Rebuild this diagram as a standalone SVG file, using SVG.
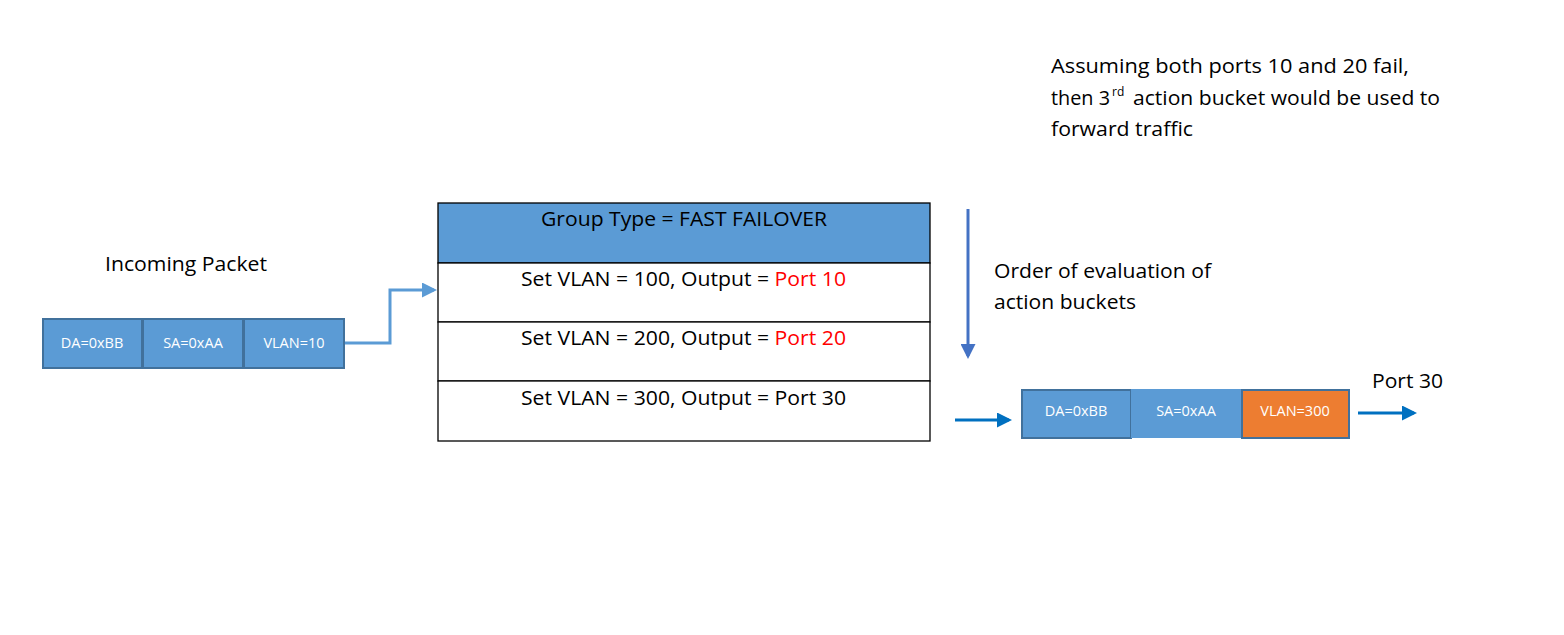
<svg xmlns="http://www.w3.org/2000/svg" width="1564" height="635" viewBox="0 0 1564 635">
<style>
.t{font-family:"Open Sans","Liberation Sans",sans-serif;font-size:20px;fill:#000}
.sup{font-family:"Open Sans","Liberation Sans",sans-serif;font-size:12px;fill:#000}
.p{font-family:"Open Sans","Liberation Sans",sans-serif;font-size:14.5px;fill:#fff;text-anchor:middle}
.red{fill:#FF0000}
.box{fill:#5B9BD5;stroke:#41719C;stroke-width:2}
.row{fill:#fff;stroke:#000;stroke-width:1.3}
</style>
<defs>
<marker id="ah1" markerWidth="5" markerHeight="5" refX="4" refY="2.5" orient="auto" markerUnits="strokeWidth"><path d="M0,0 L5,2.5 L0,5 Z" fill="#5B9BD5"/></marker>
<marker id="ah2" markerWidth="5" markerHeight="5" refX="4" refY="2.5" orient="auto" markerUnits="strokeWidth"><path d="M0,0 L5,2.5 L0,5 Z" fill="#4472C4"/></marker>
<marker id="ah3" markerWidth="5" markerHeight="5" refX="4" refY="2.5" orient="auto" markerUnits="strokeWidth"><path d="M0,0 L5,2.5 L0,5 Z" fill="#0070C0"/></marker>
</defs>
<rect width="1564" height="635" fill="#fff"/>

<g id="note">
<text class="t" x="1051" y="73" textLength="358" lengthAdjust="spacingAndGlyphs">Assuming both ports 10 and 20 fail,</text>
<text class="t" x="1051" y="105" textLength="59" lengthAdjust="spacingAndGlyphs">then 3</text>
<text class="sup" x="1112" y="96">rd</text>
<text class="t" x="1133" y="105" textLength="307" lengthAdjust="spacingAndGlyphs">action bucket would be used to</text>
<text class="t" x="1051" y="136" textLength="142" lengthAdjust="spacingAndGlyphs">forward traffic</text>
</g>

<g id="incoming-label">
<text class="t" x="105" y="271" textLength="162" lengthAdjust="spacingAndGlyphs">Incoming Packet</text>
</g>

<g id="incoming-packet">
<rect class="box" x="43" y="319" width="99" height="49"/>
<rect class="box" x="143" y="319" width="100" height="49"/>
<rect class="box" x="244" y="319" width="100" height="49"/>
<text class="p" x="92" y="348">DA=0xBB</text>
<text class="p" x="193" y="348">SA=0xAA</text>
<text class="p" x="294" y="348">VLAN=10</text>
</g>

<g id="group-table">
<rect x="438" y="203" width="492" height="60" fill="#5B9BD5" stroke="#000" stroke-width="1.3"/>
<rect class="row" x="438" y="263" width="492" height="59"/>
<rect class="row" x="438" y="322" width="492" height="59"/>
<rect class="row" x="438" y="381" width="492" height="60"/>
<text class="t" x="684" y="226" text-anchor="middle" textLength="286" lengthAdjust="spacingAndGlyphs">Group Type = FAST FAILOVER</text>
<text class="t" x="521" y="286" textLength="325" lengthAdjust="spacingAndGlyphs">Set VLAN = 100, Output = <tspan class="red">Port 10</tspan></text>
<text class="t" x="521" y="345" textLength="325" lengthAdjust="spacingAndGlyphs">Set VLAN = 200, Output = <tspan class="red">Port 20</tspan></text>
<text class="t" x="521" y="405" textLength="325" lengthAdjust="spacingAndGlyphs">Set VLAN = 300, Output = Port 30</text>
</g>

<g id="order-label">
<text class="t" x="994" y="278" textLength="217" lengthAdjust="spacingAndGlyphs">Order of evaluation of</text>
<text class="t" x="994" y="309" textLength="142" lengthAdjust="spacingAndGlyphs">action buckets</text>
</g>

<g id="output-packet">
<rect x="1022" y="390" width="109" height="48" fill="#5B9BD5" stroke="#41719C" stroke-width="2"/>
<rect x="1131" y="389" width="110" height="49" fill="#5B9BD5"/>
<rect x="1242" y="390" width="107" height="48" fill="#ED7D31" stroke="#41719C" stroke-width="2"/>
<text class="p" x="1076" y="416">DA=0xBB</text>
<text class="p" x="1186" y="416">SA=0xAA</text>
<text class="p" x="1295" y="416">VLAN=300</text>
</g>

<g id="port30-label">
<text class="t" x="1372" y="388" textLength="71" lengthAdjust="spacingAndGlyphs">Port 30</text>
</g>

<g id="connectors" fill="none">
<polyline points="345,343 390,343 390,290 434,290" stroke="#5B9BD5" stroke-width="3" marker-end="url(#ah1)"/>
<line x1="968" y1="209" x2="968" y2="356" stroke="#4472C4" stroke-width="3" marker-end="url(#ah2)"/>
<line x1="955" y1="420" x2="1009" y2="420" stroke="#0070C0" stroke-width="3" marker-end="url(#ah3)"/>
<line x1="1358" y1="413" x2="1414" y2="413" stroke="#0070C0" stroke-width="3" marker-end="url(#ah3)"/>
</g>
</svg>
